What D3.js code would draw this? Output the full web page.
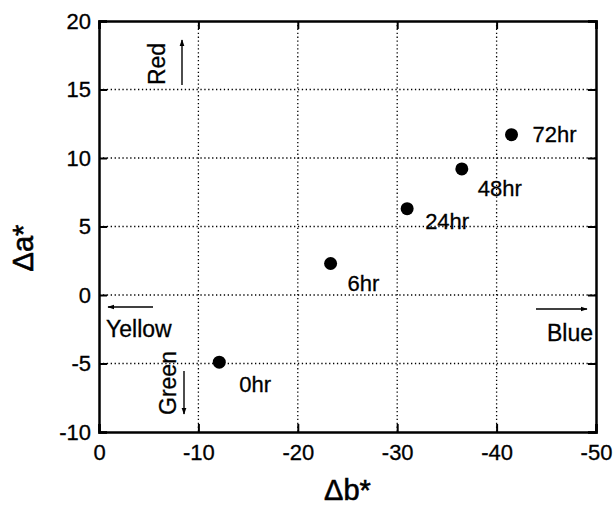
<!DOCTYPE html>
<html>
<head>
<meta charset="utf-8">
<script src="https://cdn.jsdelivr.net/npm/d3@7"></script>
<style>
  body { margin: 0; background: #fff; }
  svg { display: block; }
  text { font-family: "Liberation Sans", Arial, Helvetica, sans-serif; fill: #000; stroke: #000; stroke-width: 0.3px; }
</style>
</head>
<body>
<svg id="chart" width="615" height="511"></svg>
<script>
// Data
const labels = ["0hr", "6hr", "24hr", "48hr", "72hr"];
const deltaB = [-12.1, -23.3, -31.0, -36.5, -41.5];
const deltaA = [-4.9, 2.3, 6.3, 9.2, 11.7];
const xTicks = [0, -10, -20, -30, -40, -50];
const yTicks = [-10, -5, 0, 5, 10, 15, 20];
// label offsets [dx, dy] relative to the point
const labelOffsets = [[20, 30], [17, 28], [18, 20], [16, 27], [21, 7]];

const svg = d3.select("#chart");
const m = { left: 99, top: 21, right: 596, bottom: 432 };
const x = d3.scaleLinear().domain([0, -50]).range([m.left, m.right]);
const y = d3.scaleLinear().domain([-10, 20]).range([m.bottom, m.top]);
const fmt = d => String(d);

// Gridlines (dotted)
const grid = svg.append("g");
grid.selectAll("line.gx").data(xTicks.slice(1, -1)).join("line")
  .attr("x1", d => x(d)).attr("x2", d => x(d))
  .attr("y1", m.top).attr("y2", m.bottom)
  .attr("stroke", "#000").attr("stroke-width", 1.3).attr("stroke-dasharray", "1.3,2.6");
grid.selectAll("line.gy").data(yTicks.slice(1, -1)).join("line")
  .attr("y1", d => y(d)).attr("y2", d => y(d))
  .attr("x1", m.left).attr("x2", m.right)
  .attr("stroke", "#000").attr("stroke-width", 1.3).attr("stroke-dasharray", "1.3,2.6");

// Axes with inward ticks
const tickLen = 8;
const axB = svg.append("g").attr("transform", `translate(0,${m.bottom})`)
  .call(d3.axisBottom(x).tickValues(xTicks).tickSize(-tickLen).tickPadding(12).tickFormat(fmt));
const axT = svg.append("g").attr("transform", `translate(0,${m.top})`)
  .call(d3.axisTop(x).tickValues(xTicks).tickSize(-tickLen).tickFormat(""));
const axL = svg.append("g").attr("transform", `translate(${m.left},0)`)
  .call(d3.axisLeft(y).tickValues(yTicks).tickSize(-tickLen).tickPadding(8).tickFormat(fmt));
const axR = svg.append("g").attr("transform", `translate(${m.right},0)`)
  .call(d3.axisRight(y).tickValues(yTicks).tickSize(-tickLen).tickFormat(""));

[axB, axT, axL, axR].forEach(g => {
  g.select(".domain").attr("stroke", "#000").attr("stroke-width", 2.5);
  g.selectAll(".tick line").attr("stroke", "#000").attr("stroke-width", 2);
  g.selectAll(".tick text").style("font-size", "22px").attr("fill", "#000")
    .style("font-family", "'Liberation Sans', Arial, sans-serif");
});
axB.selectAll(".tick text").attr("dy", "0.71em");

// Axis titles
svg.append("text").attr("x", (m.left + m.right) / 2).attr("y", 500)
  .attr("text-anchor", "middle").style("font-size", "29px").style("stroke-width", "0.6px").text("Δb*");
svg.append("text").attr("transform", `translate(33,248) rotate(-90)`)
  .attr("text-anchor", "middle").style("font-size", "29px").style("stroke-width", "0.6px").text("Δa*");

// Arrow marker
const defs = svg.append("defs");
defs.append("marker").attr("id", "ah").attr("viewBox", "0 0 10 10")
  .attr("refX", 9).attr("refY", 5).attr("markerWidth", 7).attr("markerHeight", 7)
  .attr("markerUnits", "userSpaceOnUse").attr("orient", "auto")
  .append("path").attr("d", "M0,1.5 L10,5 L0,8.5 Z").attr("fill", "#000");

function arrow(x1, y1, x2, y2) {
  svg.append("line").attr("x1", x1).attr("y1", y1).attr("x2", x2).attr("y2", y2)
    .attr("stroke", "#000").attr("stroke-width", 1.4).attr("marker-end", "url(#ah)");
}
// Red
svg.append("text").attr("transform", "translate(165,64) rotate(-90)")
  .attr("text-anchor", "middle").style("font-size", "23px").text("Red");
arrow(182, 85, 182, 40);
// Green
svg.append("text").attr("transform", "translate(176,383) rotate(-90)")
  .attr("text-anchor", "middle").style("font-size", "23px").text("Green");
arrow(184, 371, 184, 414);
// Yellow
svg.append("text").attr("x", 106).attr("y", 337).style("font-size", "23px").text("Yellow");
arrow(153, 307, 108, 307);
// Blue
svg.append("text").attr("x", 593).attr("y", 341).attr("text-anchor", "end").style("font-size", "23px").text("Blue");
arrow(536, 309, 587, 309);

// Points
const pts = labels.map((l, i) => ({ label: l, b: deltaB[i], a: deltaA[i], off: labelOffsets[i] }));
svg.append("g").selectAll("circle").data(pts).join("circle")
  .attr("cx", d => x(d.b)).attr("cy", d => y(d.a)).attr("r", 6.5).attr("fill", "#000");
svg.append("g").selectAll("text").data(pts).join("text")
  .attr("x", d => x(d.b) + d.off[0]).attr("y", d => y(d.a) + d.off[1])
  .style("font-size", "22px").text(d => d.label);
</script>
</body>
</html>
